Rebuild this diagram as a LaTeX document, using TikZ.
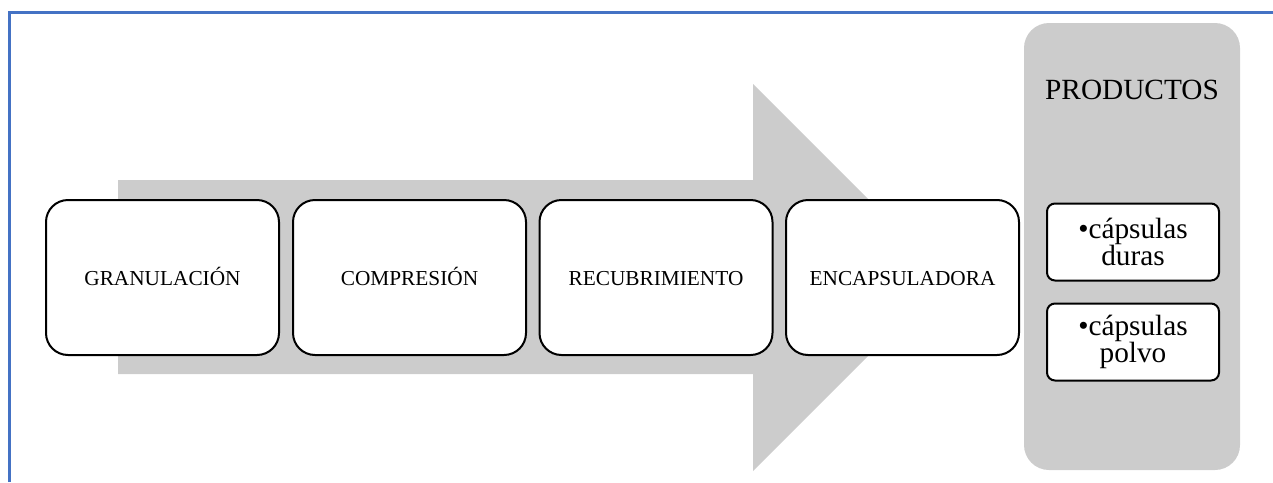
\documentclass[tikz,border=0pt]{standalone}
\usepackage{fontspec}
\setmainfont{Liberation Serif}
\definecolor{frameblue}{HTML}{4472C4}
\definecolor{arrowgray}{HTML}{CCCCCC}
\tikzset{
  stepbox/.style={draw=black, line width=2pt, fill=white, rounded corners=22pt,
    minimum width=233pt, minimum height=155pt, inner sep=0pt,
    text height=16pt, text depth=1pt,
    font=\fontsize{21.3}{25}\selectfont},
  panel/.style={fill=arrowgray, rounded corners=25pt, inner sep=0pt,
    minimum width=216pt, minimum height=447pt},
  itembox/.style={draw=black, line width=2pt, fill=white, rounded corners=8pt,
    minimum width=172pt, minimum height=77pt, inner sep=0pt, align=center,
    font=\fontsize{29.3}{22}\selectfont},
  titletext/.style={inner sep=0pt, font=\fontsize{29.3}{34}\selectfont},
  frameline/.style={draw=frameblue, line width=3pt}
}
\begin{document}
\begin{tikzpicture}[x=1pt, y=-1pt]
\useasboundingbox (0,0) rectangle (1273,482);
% frame
\coordinate (fa) at (9.5,482);
\coordinate (fb) at (9.5,12.5);
\coordinate (fc) at (1273,12.5);
\draw[frameline] (fa) -- (fb) -- (fc);
% big arrow
\fill[arrowgray] (118,180) -- (753,180) -- (753,84) -- (946.5,277.5) -- (753,471) -- (753,374) -- (118,374) -- cycle;
% step boxes
\node[stepbox] (g) at (162.5,277.5) {GRANULACIÓN};
\node[stepbox] (c) at (409.5,277.5) {COMPRESIÓN};
\node[stepbox] (r) at (656,277.5) {RECUBRIMIENTO};
\node[stepbox] (e) at (902.5,277.5) {ENCAPSULADORA};
% products panel
\node[panel] (p) at (1132,246.5) {};
\node[titletext] (pt) at (1132,90) {PRODUCTOS};
\node[itembox] (i1) at (1133,242) {•cápsulas\\duras};
\node[itembox] (i2) at (1133,342) {•cápsulas\\polvo};
\end{tikzpicture}
\end{document}
